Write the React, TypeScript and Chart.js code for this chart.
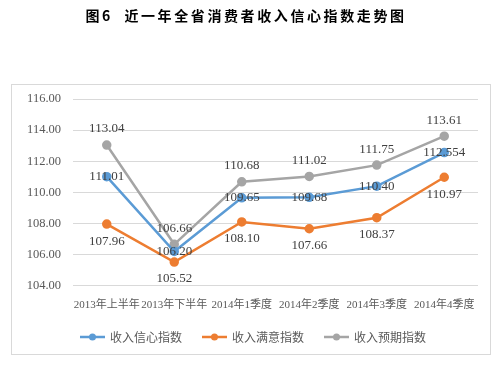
import React, { useEffect, useRef } from "react";
import { Chart, registerables } from "chart.js";

Chart.register(...registerables);

const titleText = "图6  近一年全省消费者收入信心指数走势图";
const categories = ["2013年上半年", "2013年下半年", "2014年1季度", "2014年2季度", "2014年3季度", "2014年4季度"];
const seriesNames = ["收入信心指数", "收入满意指数", "收入预期指数"];
const confidence = [111.01, 106.2, 109.65, 109.68, 110.4, 112.554];
const satisfaction = [107.96, 105.52, 108.1, 107.66, 108.37, 110.97];
const expectation = [113.04, 106.66, 110.68, 111.02, 111.75, 113.61];
const confidenceLabels = ["111.01", "106.20", "109.65", "109.68", "110.40", "112.554"];
const satisfactionLabels = ["107.96", "105.52", "108.10", "107.66", "108.37", "110.97"];
const expectationLabels = ["113.04", "106.66", "110.68", "111.02", "111.75", "113.61"];
const yMin = 104;
const yMax = 116;
const yStep = 2;

const colors = ["#5b9bd5", "#ed7d31", "#a5a5a5"];
const labelPositions = ["center", "below", "above"];
const serif = "'Liberation Serif', 'Noto Sans CJK SC', serif";
const sans = "'Noto Sans CJK SC', 'Noto Sans', sans-serif";

const decorPlugin = {
  id: "decor",
  beforeDraw(chart: any) {
    const ctx = chart.ctx;
    ctx.save();
    ctx.fillStyle = "#ffffff";
    ctx.fillRect(0, 0, chart.width, chart.height);
    ctx.strokeStyle = "#d9d9d9";
    ctx.lineWidth = 1;
    ctx.strokeRect(11.5, 84.5, 479, 270);
    // title
    ctx.fillStyle = "#000000";
    ctx.font = "bold 14px 'Noto Sans CJK SC', sans-serif";
    (ctx as any).letterSpacing = "2.6px";
    ctx.textAlign = "center";
    ctx.textBaseline = "middle";
    ctx.fillText(titleText, 246, 16);
    (ctx as any).letterSpacing = "0px";
    ctx.restore();
  },
  afterDatasetsDraw(chart: any) {
    const ctx = chart.ctx;
    ctx.save();
    ctx.font = "13px " + serif;
    ctx.fillStyle = "#404040";
    ctx.textAlign = "center";
    ctx.textBaseline = "middle";
    chart.data.datasets.forEach((ds: any, di: number) => {
      const meta = chart.getDatasetMeta(di);
      meta.data.forEach((pt: any, i: number) => {
        const pos = ds.labelPos;
        let y = pt.y;
        if (pos === "above") y -= 16;
        if (pos === "below") y += 17;
        ctx.fillText(ds.valueLabels[i], pt.x, y);
      });
    });
    ctx.restore();
  },
  afterDraw(chart: any) {
    const ctx = chart.ctx;
    ctx.save();
    ctx.font = "12px " + sans;
    ctx.textBaseline = "middle";
    const lineW = 25;
    const gap = 5;
    const itemGap = 20;
    const widths = chart.data.datasets.map((ds: any) => lineW + gap + ctx.measureText(ds.label).width);
    const total = widths.reduce((a: number, b: number) => a + b, 0) + itemGap * (widths.length - 1);
    let x = 253 - total / 2;
    const y = 337;
    chart.data.datasets.forEach((ds: any, di: number) => {
      ctx.strokeStyle = ds.borderColor;
      ctx.lineWidth = 2.5;
      ctx.beginPath();
      ctx.moveTo(x, y);
      ctx.lineTo(x + lineW, y);
      ctx.stroke();
      ctx.fillStyle = ds.borderColor;
      ctx.beginPath();
      ctx.arc(x + lineW / 2, y, 3.5, 0, Math.PI * 2);
      ctx.fill();
      ctx.fillStyle = "#595959";
      ctx.textAlign = "left";
      ctx.fillText(ds.label, x + lineW + gap, y);
      x += widths[di] + itemGap;
    });
    ctx.restore();
  },
};

export default function App() {
  const ref = useRef<HTMLCanvasElement>(null);
  useEffect(() => {
    if (!ref.current) return;
    const values = [confidence, satisfaction, expectation];
    const texts = [confidenceLabels, satisfactionLabels, expectationLabels];
    const chart = new Chart(ref.current, {
      type: "line",
      data: {
        labels: categories,
        datasets: seriesNames.map((name, i) => ({
          label: name,
          data: values[i],
          borderColor: colors[i],
          backgroundColor: colors[i],
          pointBackgroundColor: colors[i],
          pointBorderColor: colors[i],
          borderWidth: 2.5,
          pointRadius: 3.5,
          tension: 0,
          fill: false,
          labelPos: labelPositions[i],
          valueLabels: texts[i],
        })) as any,
      },
      options: {
        responsive: false,
        animation: false,
        layout: { padding: { left: 11, right: 25, top: 99, bottom: 51.3 } },
        plugins: {
          legend: { display: false },
          title: { display: false },
          tooltip: { enabled: false },
        },
        scales: {
          x: {
            offset: true,
            grid: { display: false, drawTicks: false },
            border: { display: false },
            afterFit: (s: any) => {
              s.height = 30;
            },
            ticks: {
              autoSkip: false,
              maxRotation: 0,
              minRotation: 0,
              padding: 13,
              color: "#595959",
              font: { size: 11, family: serif },
            },
          },
          y: {
            min: yMin,
            max: yMax,
            afterFit: (s: any) => {
              s.width = 62;
            },
            grid: { color: "#d9d9d9", drawTicks: false, lineWidth: 1 },
            border: { display: false },
            ticks: {
              stepSize: yStep,
              padding: 12,
              color: "#595959",
              font: { size: 12.5, family: serif },
              callback: (v: any) => Number(v).toFixed(2),
            },
          },
        },
      },
      plugins: [decorPlugin],
    });
    return () => chart.destroy();
  }, []);
  return (
    <canvas
      ref={ref}
      width={503}
      height={367}
      style={{ position: "fixed", left: 0, top: 0, width: 503, height: 367 }}
    />
  );
}
